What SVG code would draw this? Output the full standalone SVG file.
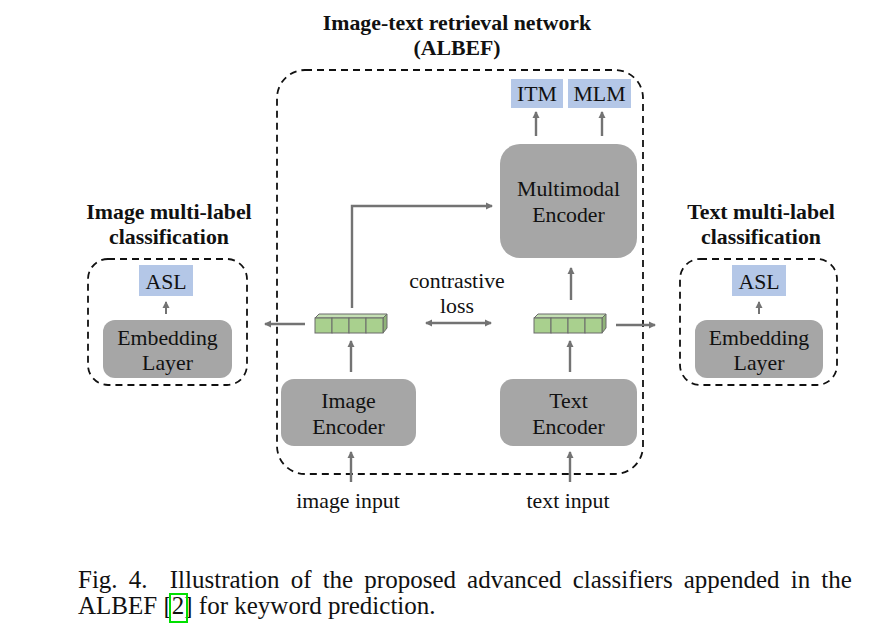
<svg xmlns="http://www.w3.org/2000/svg" width="888" height="632" viewBox="0 0 888 632" font-family="Liberation Serif, DejaVu Serif, serif">
<defs>
<style>
text{font-family:Liberation Serif, Times New Roman, DejaVu Serif, serif;fill:#111;}
.b{font-weight:bold;font-size:21.8px;}
.n{font-size:21.8px;}
.c{font-size:25px;}
.dash{fill:none;stroke:#111;stroke-width:1.8;stroke-dasharray:7,5;}
.enc{fill:#a6a6a6;}
.lbl{fill:#b4c7e7;}
.ar{stroke:#737373;stroke-width:2.4;fill:none;}
.cf{fill:#a9d08e;stroke:#6a6a6a;stroke-width:1;}
.ct{fill:#c5e0b4;stroke:#6a6a6a;stroke-width:1;}
.cs{fill:#8fb378;stroke:#6a6a6a;stroke-width:1;}
</style>
<marker id="ah" markerWidth="8" markerHeight="8" refX="6" refY="4" orient="auto" markerUnits="userSpaceOnUse">
<path d="M0,0.5 L7,4 L0,7.5 Z" fill="#737373"/>
</marker>
<marker id="ahs" markerWidth="8" markerHeight="8" refX="6" refY="4" orient="auto-start-reverse" markerUnits="userSpaceOnUse">
<path d="M0,0.5 L7,4 L0,7.5 Z" fill="#737373"/>
</marker>
<g id="cube">
<path class="ct" d="M0,4 L4,0 L72,0 L68,4 Z"/>
<path class="cs" d="M68,4 L72,0 L72,14 L68,19 Z"/>
<rect class="cf" x="0" y="4" width="17" height="15"/>
<rect class="cf" x="17" y="4" width="17" height="15"/>
<rect class="cf" x="34" y="4" width="17" height="15"/>
<rect class="cf" x="51" y="4" width="17" height="15"/>
</g>
</defs>
<rect width="888" height="632" fill="#fff"/>

<g id="albef">
<rect class="dash" x="277" y="70" width="366" height="404" rx="28"/>
<text class="b" x="457" y="30" text-anchor="middle">Image-text retrieval network</text>
<text class="b" x="457" y="55" text-anchor="middle">(ALBEF)</text>
</g>

<g id="itm"><rect class="lbl" x="511" y="79" width="52" height="29"/><text class="n" x="537" y="101" text-anchor="middle">ITM</text></g>
<g id="mlm"><rect class="lbl" x="568" y="79" width="63" height="29"/><text class="n" x="599.5" y="101" text-anchor="middle">MLM</text></g>

<g id="multimodal"><rect class="enc" x="500" y="144" width="137" height="114" rx="20"/>
<text class="n" x="568.5" y="196" text-anchor="middle">Multimodal</text>
<text class="n" x="568.5" y="222" text-anchor="middle">Encoder</text></g>

<g id="imgenc"><rect class="enc" x="281" y="379" width="135" height="67" rx="13"/>
<text class="n" x="348.5" y="408" text-anchor="middle">Image</text>
<text class="n" x="348.5" y="434" text-anchor="middle">Encoder</text></g>

<g id="txtenc"><rect class="enc" x="500" y="379" width="137" height="67" rx="13"/>
<text class="n" x="568.5" y="408" text-anchor="middle">Text</text>
<text class="n" x="568.5" y="434" text-anchor="middle">Encoder</text></g>

<g id="imgemb"><use href="#cube" x="315" y="314"/></g>
<g id="txtemb"><use href="#cube" x="534" y="314"/></g>

<g id="contrastive">
<text class="n" x="457" y="288" text-anchor="middle">contrastive</text>
<text class="n" x="457" y="313" text-anchor="middle">loss</text>
</g>

<g id="imgcls">
<text class="b" x="169" y="219" text-anchor="middle">Image multi-label</text>
<text class="b" x="169" y="244" text-anchor="middle">classification</text>
<rect class="dash" x="88" y="259" width="159" height="126" rx="20"/>
</g>
<g id="asl1"><rect class="lbl" x="139" y="265" width="54" height="31"/><text class="n" x="166" y="289" text-anchor="middle">ASL</text></g>
<g id="emb1"><rect class="enc" x="103" y="320" width="129" height="58" rx="12"/>
<text class="n" x="167.5" y="345" text-anchor="middle">Embedding</text>
<text class="n" x="167.5" y="370" text-anchor="middle">Layer</text></g>

<g id="txtcls">
<text class="b" x="761" y="219" text-anchor="middle">Text multi-label</text>
<text class="b" x="761" y="244" text-anchor="middle">classification</text>
<rect class="dash" x="680" y="259" width="157" height="126" rx="20"/>
</g>
<g id="asl2"><rect class="lbl" x="732" y="265" width="54" height="31"/><text class="n" x="759" y="289" text-anchor="middle">ASL</text></g>
<g id="emb2"><rect class="enc" x="695" y="320" width="128" height="58" rx="12"/>
<text class="n" x="759" y="345" text-anchor="middle">Embedding</text>
<text class="n" x="759" y="370" text-anchor="middle">Layer</text></g>

<g id="inputs">
<text class="n" x="348" y="508" text-anchor="middle">image input</text>
<text class="n" x="568" y="508" text-anchor="middle">text input</text>
</g>

<g id="connectors">
<line class="ar" x1="536" y1="136" x2="536" y2="112" marker-end="url(#ah)"/>
<line class="ar" x1="602" y1="136" x2="602" y2="112" marker-end="url(#ah)"/>
<polyline class="ar" points="352,308 352,206 492,206" marker-end="url(#ah)"/>
<line class="ar" x1="571" y1="300" x2="571" y2="268" marker-end="url(#ah)"/>
<line class="ar" x1="351" y1="372" x2="351" y2="341" marker-end="url(#ah)"/>
<line class="ar" x1="570" y1="372" x2="570" y2="341" marker-end="url(#ah)"/>
<line class="ar" x1="351" y1="482" x2="351" y2="452" marker-end="url(#ah)"/>
<line class="ar" x1="570" y1="482" x2="570" y2="452" marker-end="url(#ah)"/>
<line class="ar" x1="426" y1="323" x2="491" y2="323" marker-start="url(#ahs)" marker-end="url(#ah)"/>
<line class="ar" x1="305" y1="324" x2="265" y2="324" marker-end="url(#ah)"/>
<line class="ar" x1="616" y1="325" x2="655" y2="325" marker-end="url(#ah)"/>
<line class="ar" style="stroke-width:2" x1="166" y1="314" x2="166" y2="302" marker-end="url(#ah)"/>
<line class="ar" style="stroke-width:2" x1="759" y1="314" x2="759" y2="302" marker-end="url(#ah)"/>
</g>

<g id="caption">
<text class="c" x="78" y="588" word-spacing="4.9" xml:space="preserve">Fig. 4.  Illustration of the proposed advanced classifiers appended in the</text>
<text class="c" x="78" y="614">ALBEF [2] for keyword prediction.</text>
<rect x="170" y="594" width="17" height="28" fill="none" stroke="#00e000" stroke-width="2"/>
</g>
</svg>
